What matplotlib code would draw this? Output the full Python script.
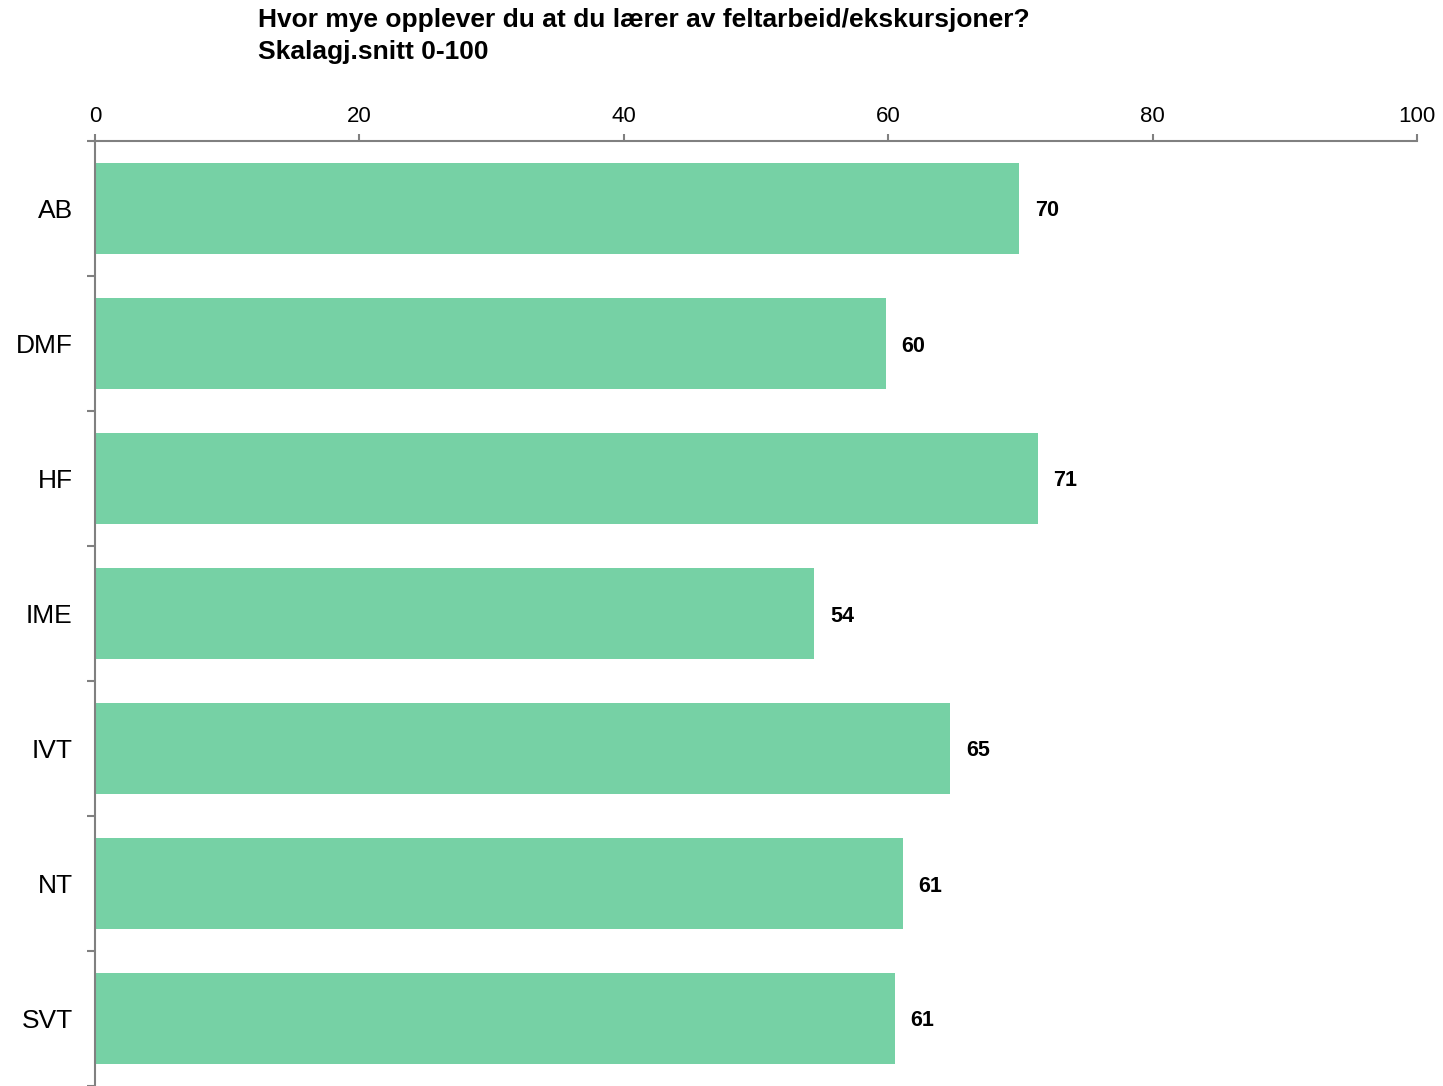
import matplotlib
matplotlib.use("Agg")
import matplotlib.pyplot as plt

# data
categories = ["AB", "DMF", "HF", "IME", "IVT", "NT", "SVT"]
values = [69.9, 59.8, 71.3, 54.4, 64.7, 61.1, 60.5]
labels = ["70", "60", "71", "54", "65", "61", "61"]
xticks = [0, 20, 40, 60, 80, 100]

plt.rcParams['font.family'] = ['Liberation Sans', 'DejaVu Sans']

W, H = 1443, 1086
fig = plt.figure(figsize=(W / 100, H / 100), dpi=100)
ax = fig.add_axes([95 / W, 0, (1417 - 95) / W, (H - 141) / H])

ypos = list(range(len(categories)))
ax.barh(ypos, values, height=0.667, color="#76d1a5")

for y, v, lab in zip(ypos, values, labels):
    ax.text(v + 1.2, y, lab, va="center_baseline", ha="left", fontsize=15.5, fontweight="bold")

ax.set_xlim(0, 100)
ax.set_ylim(len(categories) - 0.5, -0.5)

# x axis on top
ax.xaxis.tick_top()
ax.set_xticks(xticks)
ax.set_xticklabels([str(t) for t in xticks], fontsize=16)
ax.tick_params(axis="x", direction="out", length=5, width=1.5, color="#808080", pad=5)

# category ticks sit between bars
ax.set_yticks([i - 0.5 for i in range(len(categories) + 1)])
ax.set_yticklabels([])
ax.set_yticks(ypos, minor=True)
ax.set_yticklabels(categories, minor=True, fontsize=19)
ax.tick_params(axis="y", which="major", direction="out", length=6, width=1.5, color="#808080")
ax.tick_params(axis="y", which="minor", length=0, pad=16)

for s in ["right", "bottom"]:
    ax.spines[s].set_visible(False)
for s in ["top", "left"]:
    ax.spines[s].set_color("#808080")
    ax.spines[s].set_linewidth(1.5)

fig.text(258 / W, 1 - 8 / H,
         "Hvor mye opplever du at du lærer av feltarbeid/ekskursjoner?\nSkalagj.snitt 0-100",
         ha="left", va="top", fontsize=19, fontweight="bold", linespacing=1.4)

fig.savefig("out.png", dpi=100)
